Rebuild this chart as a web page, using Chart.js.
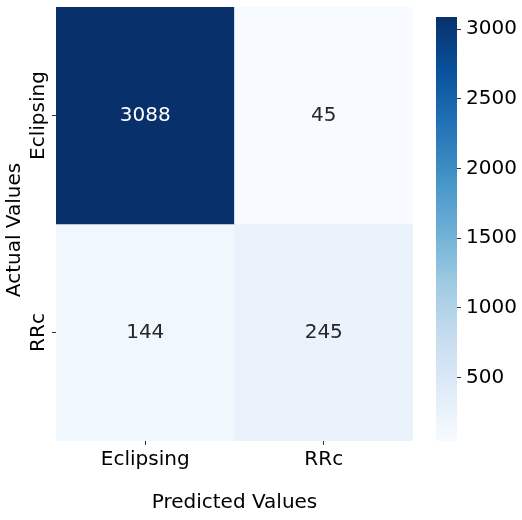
<!DOCTYPE html>
<html>
<head>
<meta charset="utf-8">
<script src="https://cdn.jsdelivr.net/npm/chart.js@4.4.1/dist/chart.umd.min.js"></script>
<style>
  body{margin:0;background:#fff;}
  #wrap{position:relative;width:522px;height:520px;}
  canvas{position:absolute;top:0;}
  #heat{left:0;}
  #cbar{left:420px;}
</style>
</head>
<body>
<div id="wrap">
  <canvas id="heat" width="425" height="520"></canvas>
  <canvas id="cbar" width="102" height="520"></canvas>
</div>
<script>
const predicted = ["Eclipsing", "RRc"];
const actual = ["Eclipsing", "RRc"];
const counts = [
  [3088, 45],
  [144, 245]
];
const cbTicks = [500, 1000, 1500, 2000, 2500, 3000];
const blues = ["#f7fbff","#deebf7","#c6dbef","#9ecae1","#6baed6","#4292c6","#2171b5","#08519c","#08306b"];

const FONT = "'DejaVu Sans', sans-serif";
const SIZE = 20;
const vmin = Math.min(...counts.flat());
const vmax = Math.max(...counts.flat());

function hex(c){ return [1,3,5].map(i=>parseInt(c.slice(i,i+2),16)); }
function blue(v){
  let t = (v - vmin) / (vmax - vmin) * (blues.length - 1);
  const i = Math.min(Math.floor(t), blues.length - 2);
  t -= i;
  const a = hex(blues[i]), b = hex(blues[i+1]);
  const rgb = a.map((x,k)=>Math.round(x + (b[k]-x)*t));
  return {css:`rgb(${rgb})`, lum:(0.2126*rgb[0]+0.7152*rgb[1]+0.0722*rgb[2])/255};
}

// one dataset per actual row, floating bar spanning that row on the y scale
const n = actual.length;
const datasets = actual.map((row,i)=>({
  label: row,
  data: predicted.map(()=>[n-1-i, n-i]),
  backgroundColor: counts[i].map(v=>blue(v).css),
  borderWidth: 0,
  grouped: false,
  barPercentage: 1,
  categoryPercentage: 1
}));

function vtext(ctx, s, x, y){
  ctx.save();
  ctx.translate(x, y);
  ctx.rotate(-Math.PI/2);
  ctx.fillText(s, 0, 0);
  ctx.restore();
}

const cellText = {
  id: "cellText",
  afterDatasetsDraw(chart){
    const {ctx, scales:{x, y}} = chart;
    ctx.save();
    ctx.font = SIZE + "px " + FONT;
    ctx.textAlign = "center";
    ctx.textBaseline = "middle";
    counts.forEach((row,i)=>row.forEach((v,j)=>{
      ctx.fillStyle = blue(v).lum < 0.408 ? "#ffffff" : "#262626";
      ctx.fillText(String(v), x.getPixelForValue(j), y.getPixelForValue(n-1-i+0.5));
    }));
    // row labels and axis title, rotated like the reference
    ctx.fillStyle = "#000";
    actual.forEach((row,i)=>vtext(ctx, row, 39, y.getPixelForValue(n-1-i+0.5)));
    vtext(ctx, "Actual Values", 15, (y.top + y.bottom)/2 + 6);
    ctx.restore();
  }
};

const tickGrid = {drawOnChartArea:false, drawTicks:true, tickLength:4, color:"#333", lineWidth:1};

new Chart(document.getElementById("heat"), {
  type: "bar",
  data: {labels: predicted, datasets},
  plugins: [cellText],
  options: {
    responsive: false,
    animation: false,
    layout: {padding: {top:7, right:12, left:0, bottom:0}},
    plugins: {legend:{display:false}, tooltip:{enabled:false}},
    scales: {
      x: {
        grid: {...tickGrid, offset:false},
        border: {display:false},
        ticks: {color:"#000", font:{family:FONT, size:SIZE}, padding:3},
        title: {display:true, text:"Predicted Values", color:"#000", font:{family:FONT, size:SIZE}, padding:{bottom:5}},
        afterFit: s => { s.height = 79; }
      },
      y: {
        min: 0, max: n,
        grid: tickGrid,
        border: {display:false},
        ticks: {display:false},
        afterBuildTicks: s => { s.ticks = actual.map((_,i)=>({value:i+0.5})); },
        afterFit: s => { s.width = 56; }
      }
    }
  }
});

new Chart(document.getElementById("cbar"), {
  type: "bar",
  data: {
    labels: [""],
    datasets: [{
      data: [[vmin, vmax]],
      borderWidth: 0,
      barPercentage: 1,
      categoryPercentage: 1,
      backgroundColor: c => {
        const ca = c.chart.chartArea;
        if (!ca) return blues[0];
        const g = c.chart.ctx.createLinearGradient(0, ca.bottom, 0, ca.top);
        blues.forEach((col,i)=>g.addColorStop(i/(blues.length-1), col));
        return g;
      }
    }]
  },
  options: {
    responsive: false,
    animation: false,
    layout: {padding: {top:7, left:16, right:0, bottom:79}},
    plugins: {legend:{display:false}, tooltip:{enabled:false}},
    scales: {
      x: {display:false},
      y: {
        position: "right",
        min: vmin, max: vmax,
        grid: tickGrid,
        border: {display:false},
        afterBuildTicks: s => { s.ticks = cbTicks.map(v=>({value:v})); },
        ticks: {color:"#000", font:{family:FONT, size:SIZE}, padding:5, callback: v => String(v)},
        afterFit: s => { s.width = 65; }
      }
    }
  }
});
</script>
</body>
</html>
